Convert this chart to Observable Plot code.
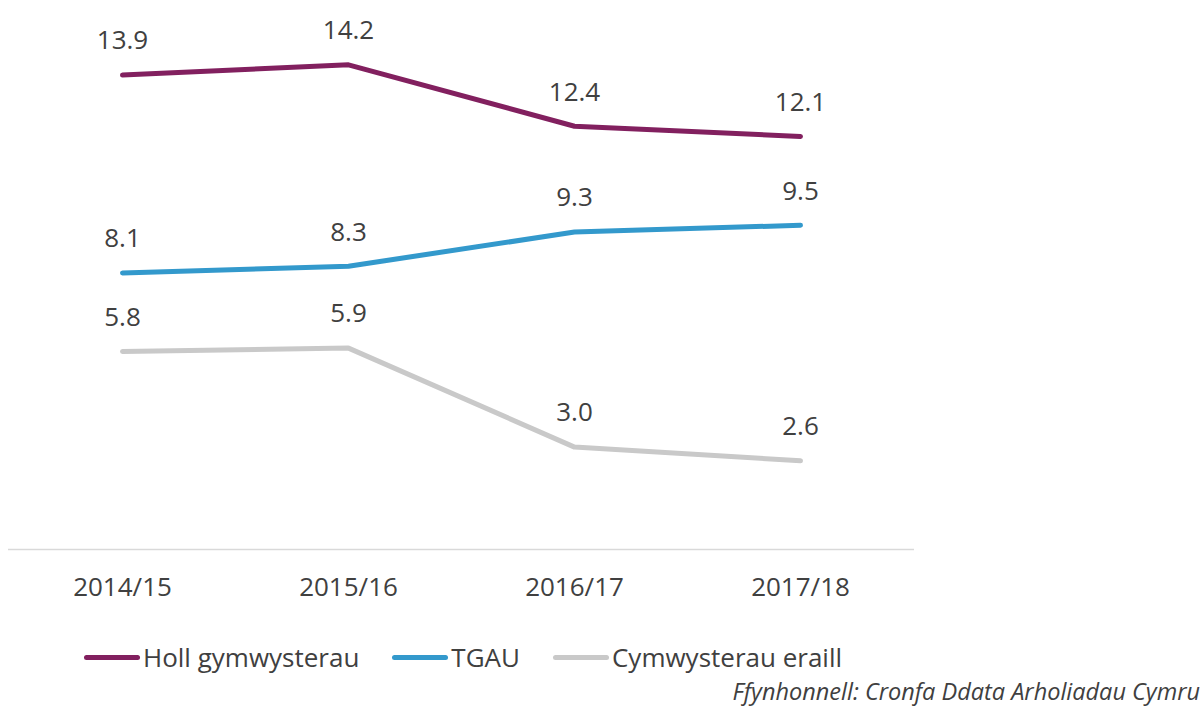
<!DOCTYPE html>
<html>
<head>
<meta charset="utf-8">
<script src="https://cdn.jsdelivr.net/npm/d3@7"></script>
<script src="https://cdn.jsdelivr.net/npm/@observablehq/plot@0.6"></script>
<style>
  html, body { margin: 0; padding: 0; background: #fff; width: 1201px; height: 708px; overflow: hidden; }
  body { font-family: "Open Sans", sans-serif; color: #404040; position: relative; }
  #legend { position: absolute; left: 0; top: 640px; height: 34px; display: flex; align-items: center; font-size: 26px; }
  .item { display: flex; align-items: center; margin-right: 33px; }
  .sw { width: 56px; height: 5px; border-radius: 3px; margin-right: 3px; }
  #caption { position: absolute; right: 1px; top: 676px; font-size: 23.5px; font-style: italic; white-space: nowrap; line-height: 30px; }
</style>
</head>
<body>
<div id="chart"></div>
<div id="legend"></div>
<div id="caption">Ffynhonnell: Cronfa Ddata Arholiadau Cymru</div>
<script>
const years = ["2014/15", "2015/16", "2016/17", "2017/18"];
const seriesNames = ["Holl gymwysterau", "TGAU", "Cymwysterau eraill"];
const seriesColors = ["#82205f", "#3399cc", "#c9c9c9"];
const hollValues = [13.9, 14.2, 12.4, 12.1];
const tgauValues = [8.1, 8.3, 9.3, 9.5];
const eraillValues = [5.8, 5.9, 3.0, 2.6];

const allValues = [hollValues, tgauValues, eraillValues];
const data = [];
seriesNames.forEach((s, i) => years.forEach((y, j) => data.push({series: s, year: y, value: allValues[i][j]})));

const chart = Plot.plot({
  width: 1201,
  height: 620,
  marginLeft: 8,
  marginRight: 287,
  marginTop: 37,
  marginBottom: 71,
  style: {fontFamily: "Open Sans, sans-serif", fontSize: "26px", color: "#404040", background: "#fff"},
  x: {type: "point", domain: years, padding: 0.5, label: null, tickSize: 0, tickPadding: 28},
  y: {domain: [0, 15], axis: null},
  color: {domain: seriesNames, range: seriesColors},
  marks: [
    Plot.ruleY([0], {stroke: "#d9d9d9", strokeWidth: 1.5}),
    Plot.line(data, {x: "year", y: "value", z: "series", stroke: "series", strokeWidth: 5, strokeLinecap: "round", strokeLinejoin: "round"}),
    Plot.text(data, {x: "year", y: "value", text: d => d.value.toFixed(1), dy: -34, fill: "#404040", fontSize: 26})
  ]
});
document.getElementById("chart").appendChild(chart);

const legend = document.getElementById("legend");
legend.style.paddingLeft = "84px";
seriesNames.forEach((s, i) => {
  const item = document.createElement("div");
  item.className = "item";
  const sw = document.createElement("div");
  sw.className = "sw";
  sw.style.background = seriesColors[i];
  const t = document.createElement("span");
  t.textContent = s;
  item.appendChild(sw);
  item.appendChild(t);
  legend.appendChild(item);
});
</script>
</body>
</html>
